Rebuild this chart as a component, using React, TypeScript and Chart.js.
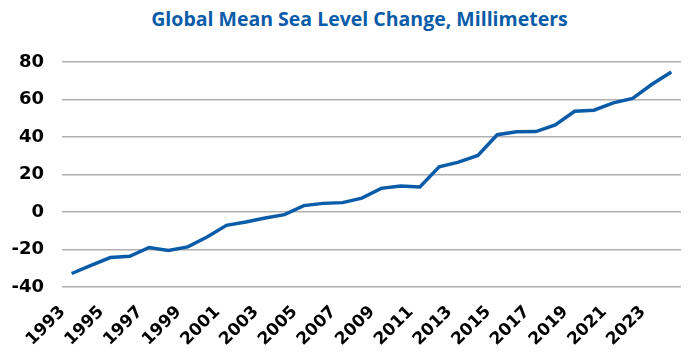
import React, { useEffect, useRef } from "react";
import { Chart, registerables } from "chart.js";

Chart.register(...registerables);

const TITLE = "Global Mean Sea Level Change, Millimeters";

const years: string[] = [
  "1993", "1994", "1995", "1996", "1997", "1998", "1999", "2000",
  "2001", "2002", "2003", "2004", "2005", "2006", "2007", "2008",
  "2009", "2010", "2011", "2012", "2013", "2014", "2015", "2016",
  "2017", "2018", "2019", "2020", "2021", "2022", "2023", "2024",
];

const seaLevelMm: number[] = [
  -32.8, -28.5, -24.3, -23.6, -18.9, -20.5, -18.6, -13.3,
  -7.1, -5.3, -3.2, -1.4, 3.4, 4.6, 5.0, 7.4,
  12.6, 13.8, 13.3, 24.1, 26.6, 30.2, 41.2, 42.8,
  42.9, 46.5, 53.7, 54.3, 58.2, 60.6, 68.1, 74.7,
];

const yMin = -40;
const yMax = 80;
const yStep = 20;

const BLUE = "#0b5ca8";

export default function App() {
  const canvasRef = useRef<HTMLCanvasElement | null>(null);

  useEffect(() => {
    if (!canvasRef.current) return;
    const chart = new Chart(canvasRef.current, {
      type: "line",
      data: {
        labels: years,
        datasets: [
          {
            label: "Sea level",
            data: seaLevelMm,
            borderColor: BLUE,
            backgroundColor: BLUE,
            borderWidth: 3.5,
            pointRadius: 0,
            tension: 0,
            fill: false,
          },
        ],
      },
      options: {
        animation: false,
        responsive: true,
        maintainAspectRatio: false,
        layout: { padding: { top: 62, left: 0, right: 9, bottom: 0 } },
        plugins: {
          legend: { display: false },
          title: { display: false },
          tooltip: { enabled: false },
        },
        scales: {
          x: {
            offset: true,
            grid: { display: false, drawTicks: false },
            border: { display: false },
            afterFit: (s: any) => {
              s.paddingLeft = 0;
              s.paddingRight = 0;
              s.height = 66;
            },
            ticks: {
              autoSkip: false,
              maxRotation: 45,
              minRotation: 45,
              padding: 15,
              labelOffset: -9,
              color: "#000",
              font: { family: "'DejaVu Sans'", size: 17, weight: "bold" },
              callback: (_v: any, i: number) => (i % 2 === 0 ? years[i] : ""),
            },
          },
          y: {
            min: yMin,
            max: yMax,
            grid: { color: "#b0b0b0", lineWidth: 1.5, drawTicks: false },
            border: { display: false },
            afterFit: (s: any) => {
              s.width = 62;
              s.paddingTop = 0;
              s.paddingBottom = 0;
            },
            ticks: {
              stepSize: yStep,
              padding: 18,
              color: "#000",
              font: { family: "'DejaVu Sans'", size: 18, weight: "bold" },
            },
          },
        },
      },
    });
    return () => chart.destroy();
  }, []);

  return (
    <div style={{ position: "fixed", left: 0, top: 0, width: 690, height: 353, background: "#fff" }}>
      <div
        style={{
          position: "absolute",
          left: 0,
          top: 5,
          width: 719,
          textAlign: "center",
          color: BLUE,
          fontFamily: "'Open Sans', sans-serif",
          fontWeight: "bold",
          fontSize: 19.5,
          lineHeight: "28px",
          whiteSpace: "nowrap",
        }}
      >
        {TITLE}
      </div>
      <div style={{ position: "absolute", left: 0, top: 0, width: 690, height: 353 }}>
        <canvas ref={canvasRef} />
      </div>
    </div>
  );
}
